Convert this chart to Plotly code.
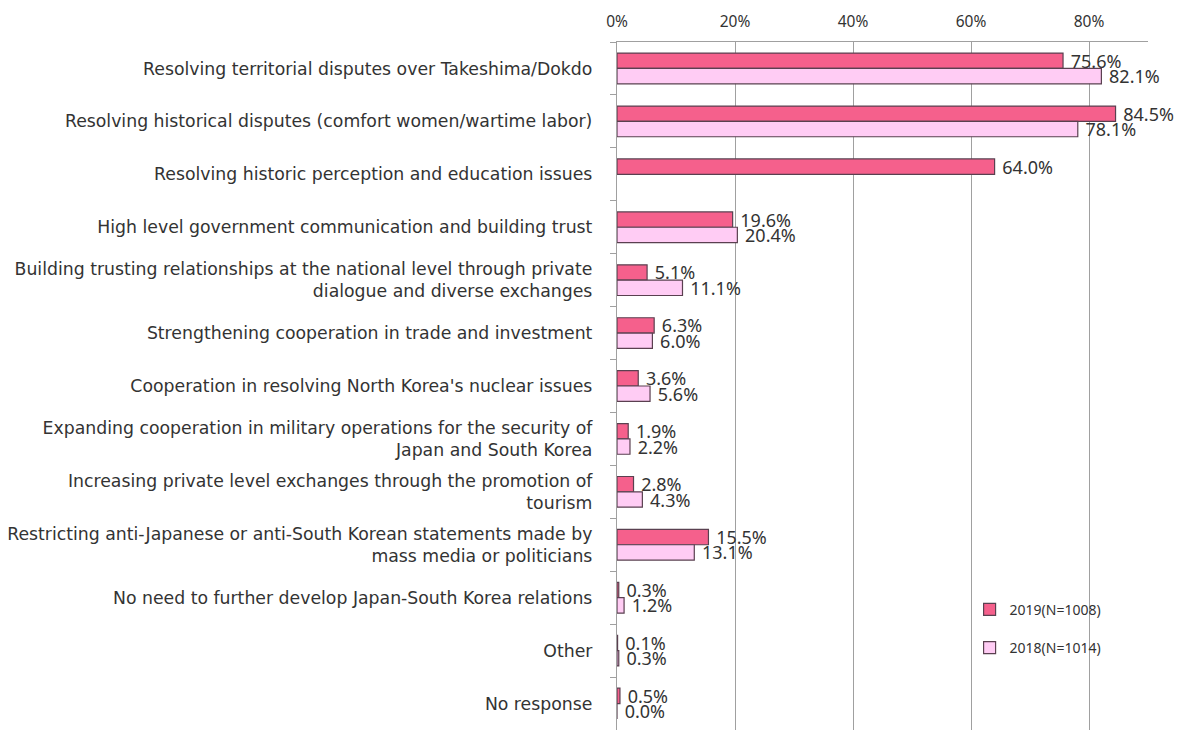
"""Japan-South Korea relations survey: horizontal grouped bars."""

import plotly.graph_objects as go

categories = [
    "Resolving territorial disputes over Takeshima/Dokdo",
    "Resolving historical disputes (comfort women/wartime labor)",
    "Resolving historic perception and education issues",
    "High level government communication and building trust",
    "Building trusting relationships at the national level through private<br>dialogue and diverse exchanges",
    "Strengthening cooperation in trade and investment",
    "Cooperation in resolving North Korea's nuclear issues",
    "Expanding cooperation in military operations for the security of<br>Japan and South Korea",
    "Increasing private level exchanges through the promotion of<br>tourism",
    "Restricting anti-Japanese or anti-South Korean statements made by<br>mass media or politicians",
    "No need to further develop Japan-South Korea relations",
    "Other",
    "No response",
]
vals_2019 = [75.6, 84.5, 64.0, 19.6, 5.1, 6.3, 3.6, 1.9, 2.8, 15.5, 0.3, 0.1, 0.5]
vals_2018 = [82.1, 78.1, None, 20.4, 11.1, 6.0, 5.6, 2.2, 4.3, 13.1, 1.2, 0.3, 0.0]
tick_vals = [0, 20, 40, 60, 80]
tick_text = ["0%", "20%", "40%", "60%", "80%"]

fig = go.Figure()
series = [
    ("2019(N=1008)", vals_2019, "#F5608C"),
    ("2018(N=1014)", vals_2018, "#FFCCF4"),
]
for name, vals, color in series:
    fig.add_trace(go.Bar(
        y=categories, x=vals, orientation="h", name=name,
        legendgroup=name,
        marker=dict(color=color, line=dict(color="#5a4050", width=1.2)),
        text=[f" {v:.1f}%" if v is not None else "" for v in vals],
        textposition="outside", cliponaxis=False, constraintext="none",
        textfont=dict(family="Noto Sans", size=18, color="#333333"),
    ))

# page body adds an 8px offset, so margins are trimmed accordingly
fig.update_layout(
    width=1198, height=732,
    margin=dict(l=609, r=58, t=34, b=10),
    template="plotly_white",
    plot_bgcolor="white", paper_bgcolor="white",
    font=dict(family="DejaVu Sans, Noto Sans, sans-serif", color="#333333"),
    barmode="group", bargap=0.42, bargroupgap=0.0,
    showlegend=True,
    legend=dict(
        x=0.664, y=0.198, xanchor="left", yanchor="top",
        bgcolor="rgba(255,255,255,0)",
        font=dict(family="Noto Sans", size=14),
        traceorder="grouped", tracegroupgap=17,
    ),
    xaxis=dict(
        side="top", range=[0, 90], automargin=False,
        tickvals=tick_vals, ticktext=tick_text,
        tickfont=dict(family="Noto Sans", size=15.5, color="#333333"),
        ticklabelstandoff=8,
        showgrid=True, gridcolor="#a0a0a0", gridwidth=1.3,
        showline=True, linecolor="#a0a0a0", linewidth=1.3,
        zeroline=False, ticks="",
    ),
    yaxis=dict(
        autorange="reversed", automargin=False,
        tickfont=dict(size=17.3, color="#333333"),
        ticklabelstandoff=20,
        showline=True, linecolor="#a0a0a0", linewidth=1.3,
        ticks="outside", tickson="boundaries", ticklen=6,
        tickcolor="#a0a0a0", showgrid=False,
    ),
)

fig.write_html("out.html")
